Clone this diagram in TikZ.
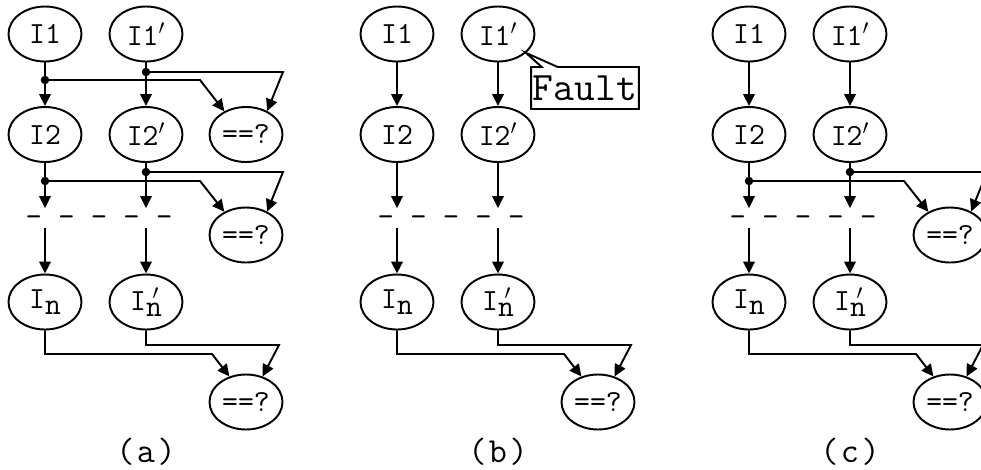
\documentclass[tikz,border=0pt]{standalone}
\usetikzlibrary{positioning, arrows.meta, shapes.geometric, shapes.callouts, calc}

\tikzset{
  insn/.style={ellipse, draw, line width=1.1pt, minimum width=14.6mm,
    minimum height=11mm, inner sep=0pt, font=\ttfamily\fontsize{17.5}{19}\selectfont},
  flow/.style={-{Triangle[length=2.4mm, width=2.3mm]}, line width=1.1pt},
  tap/.style={circle, fill, inner sep=0pt, minimum size=1.7mm},
  gaprow/.style={font=\ttfamily\fontsize{18}{20}\selectfont, inner sep=0pt,
    text height=3.5mm, text depth=0.3mm},
  tag/.style={font=\ttfamily\fontsize{20}{22}\selectfont, inner sep=0pt},
}
\newcommand{\subn}{\raisebox{-0.2em}{n}}
\newcommand{\subnp}{\raisebox{-0.2em}{n}\llap{$'$\kern0.08em}}

\begin{document}
\begin{tikzpicture}[x=0.2mm, y=-0.2mm]
  \useasboundingbox (0,0) rectangle (981,469);

  % the two instruction streams, same in every panel
  \foreach \p/\dx in {a/0, b/352, c/704}{
    \node[insn] (\p1)  at (45+\dx, 34)     {I1};
    \node[insn] (\p1p) at (146+\dx, 34)    {I1$'$};
    \node[insn] (\p2)  at (45+\dx, 134.5)  {I2};
    \node[insn] (\p2p) at (146+\dx, 134.5) {I2$'$};
    \node[gaprow] (\p-gap) at (99+\dx, 218) {- - - - -};
    \node[insn] (\p n)  at (45+\dx, 302)   {I\subn};
    \node[insn] (\p np) at (146+\dx, 302)  {I\subnp};
    \node[insn] (\p last) at (246+\dx, 402) {==?};
    \node[tag]  (\p tag) at (146+\dx, 452) {(\kern0.5mm\p\kern0.5mm)};

    \draw[flow] (\p1) -- (\p2);
    \draw[flow] (\p1p) -- (\p2p);
    \draw[flow] (\p2) -- (\p2 |- \p-gap.north);
    \draw[flow] (\p2p) -- (\p2p |- \p-gap.north);
    \draw[flow] (\p n |- \p-gap.south) -- (\p n);
    \draw[flow] (\p np |- \p-gap.south) -- (\p np);
    % final compare of the two results
    \draw[flow] (\p n.south) -- ++(0,23.5) -- ++(167,0) -- (\p last.123);
    \draw[flow] (\p np.south) -- ++(0,14.5) -- ++(133,0) -- (\p last.57);
  }

  % (a): compare after every instruction
  \node[insn] (acmp1) at (246,134.5) {==?};
  \node[insn] (acmp2) at (246,235)   {==?};
  \node[tap] (a1t)  at (45,80)  {};
  \node[tap] (a1pt) at (146,72) {};
  \node[tap] (a2t)  at (45,181) {};
  \node[tap] (a2pt) at (146,172) {};
  \draw[flow] (a1t.center) -- ++(155,0) -- (acmp1.133);
  \draw[flow] (a1pt.center) -- ++(137,0) -- (acmp1.48);
  \draw[flow] (a2t.center) -- ++(155,0) -- (acmp2.133);
  \draw[flow] (a2pt.center) -- ++(137,0) -- (acmp2.48);

  % (b): fault injected into the copy
  \node[rectangle callout, draw, line width=1.1pt,
        font=\ttfamily\fontsize{23}{26}\selectfont,
        inner xsep=1pt, inner ysep=0pt, minimum height=8.4mm,
        callout absolute pointer={(b1p.-34)}, callout pointer width=3.2mm]
        (fault) at (585,88) {Fault};

  % (c): compare only at I2
  \node[insn] (ccmp) at (950,235) {==?};
  \node[tap] (c2t)  at (749,181) {};
  \node[tap] (c2pt) at (850,172) {};
  \draw[flow] (c2t.center) -- ++(155,0) -- (ccmp.133);
  \draw[flow] (c2pt.center) -- ++(137,0) -- (ccmp.48);
\end{tikzpicture}
\end{document}
